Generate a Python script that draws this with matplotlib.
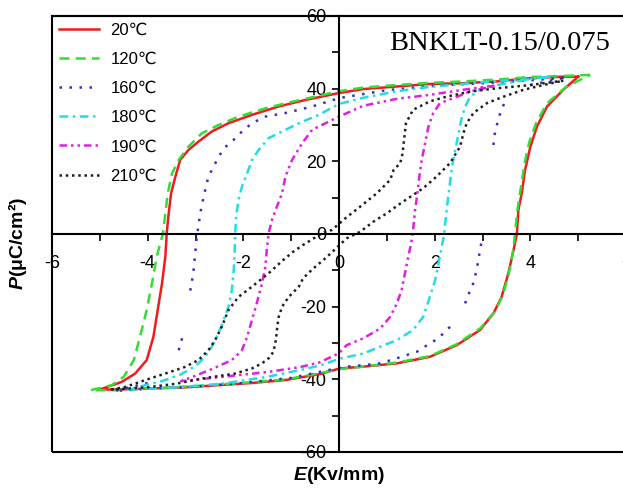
import numpy as np
import matplotlib
matplotlib.use('Agg')
import matplotlib.pyplot as plt
from matplotlib.ticker import MultipleLocator
from matplotlib.patches import Rectangle

plt.rcParams['font.family'] = ['Liberation Sans', 'DejaVu Sans']
plt.rcParams['axes.unicode_minus'] = False
plt.rcParams['mathtext.fontset'] = 'custom'
plt.rcParams['mathtext.rm'] = 'Liberation Sans:bold'
plt.rcParams['mathtext.bfit'] = 'Liberation Sans:italic:bold'

nan = np.nan

labels = ['20℃', '120℃', '160℃', '180℃', '190℃', '210℃']

# each loop: upper branch (+Emax -> -Emax), then lower branch back to +Emax
e_20 = [5.0, 4.69, 4.0, 3.3, 2.6, 1.9, 1.21, 0.51, 0.0, -0.7, -1.26, -1.82, -2.31, -2.66, -2.94,
        -3.15, -3.32, -3.42, -3.51, -3.56, -3.6, -3.63, -3.7, -3.79, -3.88, -4.02, -4.26, -4.54, -5.0,
        -4.61, -3.91, -3.22, -2.52, -1.82, -1.12, -0.42, 0.02, 0.51, 1.21, 1.9, 2.46, 2.95, 3.23,
        3.4, 3.54, 3.65, 3.72, 3.75, 3.82, 3.89, 4.0, 4.14, 4.35, 4.69, 5.0]
p_20 = [43.3, 43.3, 42.9, 42.0, 41.5, 41.3, 40.6, 39.9, 38.8, 36.9, 35.1, 32.8, 30.5, 28.2, 25.4,
        23.1, 20.4, 15.8, 11.2, 5.7, 0.5, -6.2, -13.6, -20.9, -28.3, -34.7, -38.4, -40.7, -42.8,
        -42.8, -42.5, -42.2, -41.6, -41.0, -40.2, -38.6, -37.0, -36.5, -35.6, -33.8, -30.6, -26.4, -21.8,
        -17.3, -10.8, -4.4, 0.2, 6.6, 11.2, 17.6, 24.0, 29.6, 35.1, 39.7, 43.3]

e_120 = [5.25, 4.7, 4.0, 3.3, 2.6, 1.9, 1.2, 0.5, 0.0, -0.98, -1.54, -2.1, -2.52, -2.87, -3.15,
         -3.35, -3.49, -3.58, -3.63, -3.68, -3.81, -3.91, -4.02, -4.16, -4.29, -4.5, -4.75, -5.2,
         -4.7, -4.0, -3.2, -2.5, -1.8, -1.1, -0.4, 0.0, 0.5, 1.2, 1.9, 2.45, 2.95, 3.25, 3.42,
         3.55, 3.64, 3.68, 3.73, 3.8, 3.88, 3.98, 4.12, 4.35, 4.75, 5.25]
p_120 = [43.8, 43.5, 43.2, 42.5, 42.0, 41.6, 41.0, 40.3, 39.3, 36.4, 34.6, 32.3, 30.0, 27.7, 24.0,
         20.4, 16.7, 11.2, 5.7, 0.2, -6.2, -13.6, -20.9, -28.3, -34.7, -39.3, -41.6, -43.0,
         -43.0, -42.6, -42.0, -41.4, -40.8, -40.0, -38.3, -37.2, -36.5, -35.4, -33.6, -30.4, -26.0, -21.5, -17.0,
         -11.0, -4.6, 0.2, 6.6, 12.6, 19.5, 25.4, 30.5, 36.0, 40.5, 43.8]

e_160 = [4.7, 4.0, 3.0, 2.0, 1.0, 0.0, -0.56, -1.12, -1.54, -1.82, -2.03, -2.24, -2.41, -2.55, -2.73,
         -2.83, -2.9, -2.94, -2.97, -3.0, -3.04, -3.08, -3.13, nan, -3.28, -3.37, nan, -4.0, -4.7,
         -4.0, -3.0, -2.0, -1.0, 0.09, 0.51, 0.86, 1.21, 1.63, 1.9, 2.08, 2.25, 2.36, nan, 2.64, 2.67,
         2.78, 2.82, 2.88, 2.91, 2.95, 2.98, nan, 3.23, 3.24, 3.28, 3.32, 3.37, 3.44, 3.51, nan, 4.0, 4.7]
p_160 = [43.0, 42.3, 41.5, 40.8, 39.6, 37.4, 35.1, 33.3, 32.3, 30.5, 28.2, 25.4, 23.6, 20.4, 15.8,
         10.3, 5.7, 2.0, -0.3, -4.4, -9.9, -13.6, -16.8, nan, -28.7, -32.9, nan, -41.0, -43.2,
         -42.6, -42.0, -41.0, -39.6, -36.6, -36.1, -35.6, -34.2, -32.4, -30.1, -28.7, -26.4, -25.1, nan, -19.1, -17.3,
         -15.0, -12.7, -9.9, -7.2, -4.4, -2.1, nan, 24.5, 26.4, 29.1, 30.9, 33.3, 35.5, 37.4, nan, 41.0, 43.0]

e_180 = [4.4, 4.0, 3.0, 1.9, 1.21, 0.51, 0.0, -0.42, -0.84, -1.19, -1.47, -1.68, -1.82, -1.92, -2.03,
         -2.1, -2.15, -2.17, -2.18, -2.2, -2.24, -2.31, -2.41, -2.52, -2.66, -2.8, -3.0, -3.3, -3.7, -4.05, -4.4,
         -3.5, -2.5, -1.5, -0.8, -0.4, 0.02, 0.51, 0.86, 1.21, 1.55, 1.76, 1.9, 2.01, 2.08, 2.15,
         2.2, 2.25, 2.31, 2.36, 2.43, 2.5, 2.57, 2.64, 2.74, 2.95, 3.3, 3.72, 4.14, 4.4]
p_180 = [43.3, 42.6, 41.8, 40.5, 39.3, 37.5, 35.8, 32.8, 30.5, 28.2, 26.4, 23.1, 20.4, 16.7, 13.0,
         9.4, 4.8, 0.2, -4.4, -9.9, -15.4, -20.0, -23.7, -27.4, -31.0, -33.8, -36.3, -38.6, -40.5, -41.6, -42.8,
         -42.3, -41.3, -39.3, -37.4, -36.2, -34.3, -32.9, -31.0, -29.2, -26.4, -22.8, -17.3, -12.7, -8.1, -3.5,
         0.2, 6.6, 13.0, 18.5, 23.1, 27.7, 32.3, 35.1, 37.8, 39.7, 41.0, 42.0, 42.9, 43.3]

e_190 = [3.25, 3.0, 2.6, 1.9, 1.21, 0.51, 0.0, -0.42, -0.56, -0.77, -0.98, -1.12, -1.19, -1.3, -1.4,
         -1.47, -1.51, -1.54, -1.61, -1.72, -1.82, -1.92, -2.03, -2.24, -2.66, -3.0, -3.3,
         -2.5, -1.5, -0.8, -0.4, 0.0, 0.16, 0.51, 0.86, 1.07, 1.21, 1.31, 1.38, 1.45, 1.52,
         1.55, 1.59, 1.64, 1.68, 1.73, 1.8, 1.87, 1.97, 2.11, 2.39, 2.74, 3.02, 3.25]
p_190 = [40.8, 40.4, 39.7, 38.3, 37.2, 35.3, 32.3, 29.6, 28.7, 25.0, 20.4, 15.8, 11.2, 7.5, 3.9,
         0.2, -4.4, -9.0, -13.6, -19.1, -23.7, -28.3, -32.0, -34.7, -37.2, -39.0, -40.5,
         -39.4, -38.0, -36.6, -35.3, -32.8, -30.6, -28.7, -26.0, -22.8, -19.1, -15.4, -10.8, -6.2, -1.7,
         1.1, 6.6, 11.2, 15.8, 20.4, 25.0, 29.6, 33.3, 36.0, 37.4, 39.2, 40.1, 40.8]

e_210 = [4.69, 4.0, 3.3, 2.74, 2.25, 1.9, 1.55, 1.4, 1.36, 1.33, 1.28, 1.14, 1.07, 0.79, 0.44,
         0.13, -0.15, -0.33, -0.75, -0.96, -1.17, -1.47, -1.82, -2.1, -2.31, -2.45, -2.59, -2.73,
         -2.94, -3.22, -3.63, -4.05, -4.47, -4.75,
         -4.0, -3.4, -2.87, -2.17, -1.82, -1.61, -1.47, -1.37, -1.32, -1.29, -1.26, -1.19, -1.05,
         -0.84, -0.75, -0.54, -0.33, -0.08, 0.16, 0.44, 0.72, 1.0, 1.24, 1.42, 1.76, 2.04, 2.32,
         2.53, 2.6, 2.67, 2.81, 3.09, 3.44, 3.86, 4.27, 4.69]
p_210 = [42.2, 41.0, 40.1, 39.2, 37.8, 36.5, 34.2, 30.5, 25.9, 22.2, 19.5, 17.6, 14.9, 11.2, 7.5,
         4.3, 1.1, 0.4, -3.0, -4.9, -7.2, -10.8, -14.5, -17.3, -20.9, -25.5, -29.2, -32.0,
         -34.7, -36.6, -38.4, -40.2, -42.1, -42.8,
         -42.2, -41.2, -39.8, -38.4, -37.0, -35.6, -34.2, -32.4, -29.2, -25.5, -22.8, -20.0, -17.3,
         -14.5, -12.2, -9.5, -7.2, -4.2, -1.2, 0.6, 3.4, 5.7, 8.0, 9.6, 12.6, 15.8, 19.5,
         24.0, 27.7, 30.5, 33.3, 36.0, 37.8, 39.7, 41.0, 42.2]

e_all = [e_20, e_120, e_160, e_180, e_190, e_210]
p_all = [p_20, p_120, p_160, p_180, p_190, p_210]
colors = ['#ee1c1c', '#33dd33', '#3232c0', '#22dde6', '#e020e0', '#202020']
styles = ['-', (0, (4, 2.5)), (0, (1, 3)), (0, (3.5, 1.8, 1, 1.8)),
          (0, (3, 1.6, 1, 1.6, 1, 1.6)), (0, (1, 1.5))]

fig = plt.figure(figsize=(6.23, 4.90), dpi=100)
ax = fig.add_axes([52 / 623, 38 / 490, 574 / 623, 436 / 490])

for e, p, lab, c, ls in zip(e_all, p_all, labels, colors, styles):
    ax.plot(e, p, color=c, lw=1.8, linestyle=ls, label=lab)

ax.set_xlim(-6, 6)
ax.set_ylim(-60, 60)

# axes through the origin plus an outer frame
ax.spines['left'].set_position('zero')
ax.spines['bottom'].set_position('zero')
for s in ax.spines.values():
    s.set_linewidth(1.5)
ax.add_patch(Rectangle((0, 0), 1, 1, transform=ax.transAxes, fill=False,
                       lw=1.5, ec='black', clip_on=False))

ax.xaxis.set_major_locator(MultipleLocator(2))
ax.xaxis.set_minor_locator(MultipleLocator(1))
ax.yaxis.set_major_locator(MultipleLocator(20))
ax.yaxis.set_minor_locator(MultipleLocator(10))
ax.tick_params(which='both', direction='out', length=5, width=1.2)
ax.tick_params(axis='x', labelsize=13, pad=10)
ax.tick_params(axis='y', labelsize=13, pad=4)

ax.text(0.78, 0.936, 'BNKLT-0.15/0.075', transform=ax.transAxes, ha='center', va='center',
        fontsize=20.5, family='Liberation Serif')

fig.text(339 / 623, 1 - 475 / 490, r'$\mathbfit{E}$(Kv/mm)', ha='center', va='center',
         fontsize=14, fontweight='bold')
fig.text(18 / 623, 1 - 243 / 490, r'$\mathbfit{P}$(μC/cm²)', ha='center', va='center',
         rotation=90, fontsize=14, fontweight='bold')

ax.legend(loc='upper left', bbox_to_anchor=(0, 1), borderaxespad=0, frameon=False,
          fontsize=12, handlelength=2.4, handletextpad=0.7, labelspacing=0.85)

fig.savefig('out.png', dpi=100)
